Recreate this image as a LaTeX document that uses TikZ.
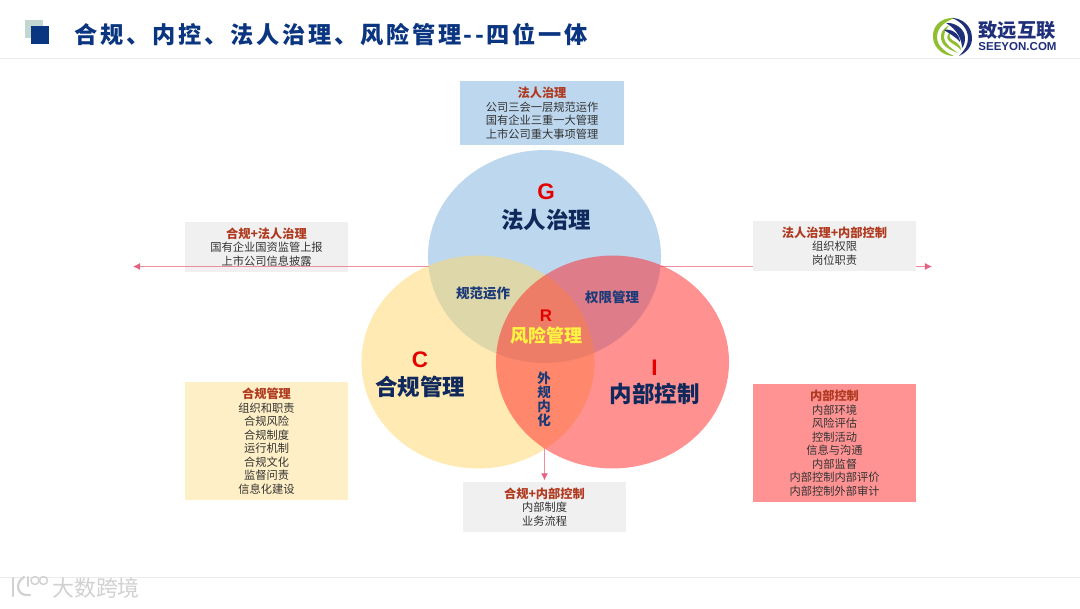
\documentclass[tikz,border=0pt]{standalone}
\usepackage{fontspec}
\setmainfont{Noto Sans CJK SC}
\newfontfamily\latinfont{Liberation Sans}
\usetikzlibrary{arrows.meta, positioning}
\usetikzlibrary{shapes.geometric}

\definecolor{navy}{HTML}{0A3580}
\definecolor{marklight}{HTML}{C3D6CF}
\definecolor{inknavy}{HTML}{10295C}
\definecolor{midnavy}{HTML}{1B3A78}
\definecolor{brick}{HTML}{B03A20}
\definecolor{boxblue}{HTML}{BDD7EE}
\definecolor{boxgray}{HTML}{F0F0F0}
\definecolor{boxyellow}{HTML}{FFEFC6}
\definecolor{boxred}{HTML}{FF9393}
\definecolor{vennyellow}{HTML}{FFD768}
\definecolor{vennred}{HTML}{FF2525}
\definecolor{pinkline}{HTML}{EE8CA0}
\definecolor{pinktip}{HTML}{E8607F}
\definecolor{logogreen}{HTML}{8FBE2E}
\definecolor{logonavy}{HTML}{1F2F7A}

\newcommand{\boxhead}[1]{{\fontsize{8.7pt}{9.6pt}\selectfont\bfseries\color{brick}#1}}

\begin{document}
\begin{tikzpicture}[
		x=0.025cm,
		y=-0.025cm,
		infobox/.style={
			rectangle,
			align=center,
			inner sep=0pt,
			minimum width=4.075cm,
			text=black!80,
			font=\fontsize{8pt}{9.6pt}\selectfont
		},
		venn/.style={
			ellipse,
			inner sep=0pt,
			minimum width=5.825cm,
			minimum height=5.32cm
		},
		bigname/.style={
			font=\fontsize{16pt}{18pt}\selectfont\bfseries,
			text=inknavy
		},
		letter/.style={
			font=\latinfont\fontsize{16pt}{18pt}\selectfont\bfseries,
			text=red!90!black,
			inner sep=0pt
		},
		overlap/.style={
			align=center,
			inner sep=0pt,
			font=\fontsize{9.6pt}{9.8pt}\selectfont\bfseries,
			text=midnavy
		},
		arrow/.style={
			-{Latex[length=5pt,width=5pt,color=pinktip]},
			draw=pinkline,
			line width=0.75pt
		},
		rule/.style={
			draw=black!8,
			line width=0.6pt
		}
		]
		
		\useasboundingbox (0,0) rectangle (1080,608);
		
		% Header and footer
		\fill[fill=white] (0,0) rectangle (1080,608);
		\draw[rule] (0,58) -- (1080,58);
		\draw[rule] (0,577.5) -- (1080,577.5);
		\fill[fill=marklight] (25,20) rectangle (43,38);
		\node[rectangle, fill=navy, minimum width=0.45cm, minimum height=0.45cm, inner sep=0pt] (mark) at (40,35) {};
		\node[right=0.625cm of mark, inner sep=0pt, text=navy, font=\fontsize{16.5pt}{18pt}\selectfont\bfseries] (title)
			{\addfontfeature{LetterSpace=12}合规、内控、法人治理、风险管理\hspace{1.5pt}-{}-\hspace{1.5pt}四位一体};
		
		% Logo
		\begin{scope}[shift={(953,37)}]
			\fill[logogreen] (2,-19) .. controls (-14,-20) and (-21,-9) .. (-20,1) .. controls (-19,11) and (-10,19) .. (1,19) .. controls (-6,16) and (-16,10) .. (-16,0) .. controls (-16,-10) and (-7,-16) .. (2,-19);
			\fill[logogreen] (-3,-12) .. controls (-10,-9) and (-13,-4) .. (-12,2) .. controls (-11,9) and (-3,13) .. (5,16) .. controls (-2,11) and (-8,7) .. (-9,1) .. controls (-9,-5) and (-7,-9) .. (-3,-12);
			\fill[logogreen] (-2,-5) .. controls (-6,-3) and (-7,1) .. (-4,4) .. controls (-1,7) and (5,9) .. (8,13) .. controls (8,8) and (3,5) .. (-1,3) .. controls (-4,1) and (-4,-3) .. (-2,-5);
			\fill[logonavy] (-1,-19) .. controls (9,-19) and (19,-11) .. (19,1) .. controls (19,10) and (13,16) .. (6,19) .. controls (12,13) and (15,8) .. (15,1) .. controls (15,-9) and (7,-16) .. (-1,-19);
			\fill[logonavy] (-7,-14) .. controls (2,-15) and (12,-8) .. (12,1) .. controls (12,5) and (11,9) .. (9,11) .. controls (9,3) and (4,-8) .. (-7,-14);
			\fill[logonavy] (-9,-7) .. controls (-2,-9) and (7,-3) .. (7,5) .. controls (3,0) and (-3,-3) .. (-9,-7);
		\end{scope}
		\node[inner sep=0pt, text=logonavy, font=\fontsize{13.7pt}{14pt}\selectfont\bfseries] (logoCn) at (1017,30) {致远互联};
		\node[inner sep=0pt, text=logonavy, font=\latinfont\fontsize{8.2pt}{9pt}\selectfont\bfseries] (logoEn) at (1017.5,46.5) {SEEYON.COM};
		
		% Watermark
		\draw[black!18, line width=1.6pt, line cap=round] (13,578) -- (13,596);
		\draw[black!18, line width=1.6pt, line cap=round] (24,577) .. controls (14,583) and (17,597) .. (30,595);
		\draw[black!18, line width=1.2pt, line cap=round] (28,577) -- (28,586);
		\draw[black!18, line width=1pt] (35,580.5) circle (4);
		\draw[black!18, line width=1pt] (43.5,580.5) circle (4);
		\node[inner sep=0pt, text=black!18, font=\fontsize{15.6pt}{16pt}\selectfont] (watermark) at (96,588) {大数跨境};
		
		% Arrows under the boxes
		\coordinate (rightStart) at (661,266.5);
		\coordinate (rightTip) at (932,266.5);
		\draw[arrow] (rightStart) -- (rightTip);
		
		% Nodes
		\node[infobox, fill=boxblue, minimum height=1.6cm] (gBox) at (542,113)
			{\boxhead{法人治理}\\公司三会一层规范运作\\国有企业三重一大管理\\上市公司重大事项管理};
		\node[infobox, fill=boxgray, minimum height=1.25cm] (gcBox) at (266.5,247)
			{\boxhead{合规+法人治理}\\国有企业国资监管上报\\上市公司信息披露};
		\node[infobox, fill=boxgray, minimum height=1.25cm] (giBox) at (834.5,246)
			{\boxhead{法人治理+内部控制}\\组织权限\\岗位职责};
		\node[infobox, fill=boxyellow, minimum height=2.95cm] (cBox) at (266.5,441)
			{\boxhead{合规管理}\\组织和职责\\合规风险\\合规制度\\运行机制\\合规文化\\监督问责\\信息化建设};
		\node[infobox, fill=boxred, minimum height=2.95cm] (iBox) at (834.5,443)
			{\boxhead{内部控制}\\内部环境\\风险评估\\控制活动\\信息与沟通\\内部监督\\内部控制内部评价\\内部控制外部审计};
		\node[infobox, fill=boxgray, minimum height=1.25cm] (ciBox) at (544.5,507)
			{\boxhead{合规+内部控制}\\内部制度\\业务流程};
		
		\node[venn, fill=boxblue] (gCircle) at (544.5,256.5) {};
		\node[venn, fill=vennyellow, fill opacity=0.5] (cCircle) at (478,362) {};
		\node[venn, fill=vennred, fill opacity=0.5] (iCircle) at (612.5,362) {};
		
		\node[bigname] (gName) at (546,220) {法人治理};
		\node[letter, above=0.1cm of gName] (gLetter) {G};
		\node[bigname] (cName) at (420,387) {合规管理};
		\node[letter, above=0.07cm of cName] (cLetter) {C};
		\node[bigname] (iName) at (654.5,394) {内部控制};
		\node[letter, above=0.07cm of iName] (iLetter) {I};
		
		\node[inner sep=0pt, text=yellow!75!white, font=\fontsize{12.8pt}{14pt}\selectfont\bfseries] (rName) at (546,336) {风险管理};
		\node[letter, font=\latinfont\fontsize{12pt}{14pt}\selectfont\bfseries, above=0.13cm of rName] (rLetter) {R};
		
		\node[overlap] (gcName) at (483,293) {规范运作};
		\node[overlap] (giName) at (612,297) {权限管理};
		\node[overlap] (ciName) at (544,399.5) {外\\规\\内\\化};
		
		% Arrows
		\coordinate (leftStart) at (429,266.5);
		\coordinate (leftTip) at (133,266.5);
		\coordinate (vennBottom) at (544.5,448);
		\draw[arrow] (leftStart) -- (leftTip);
		\draw[arrow, shorten >=1pt] (vennBottom) -- (ciBox.north);
		
	\end{tikzpicture}
\end{document}
